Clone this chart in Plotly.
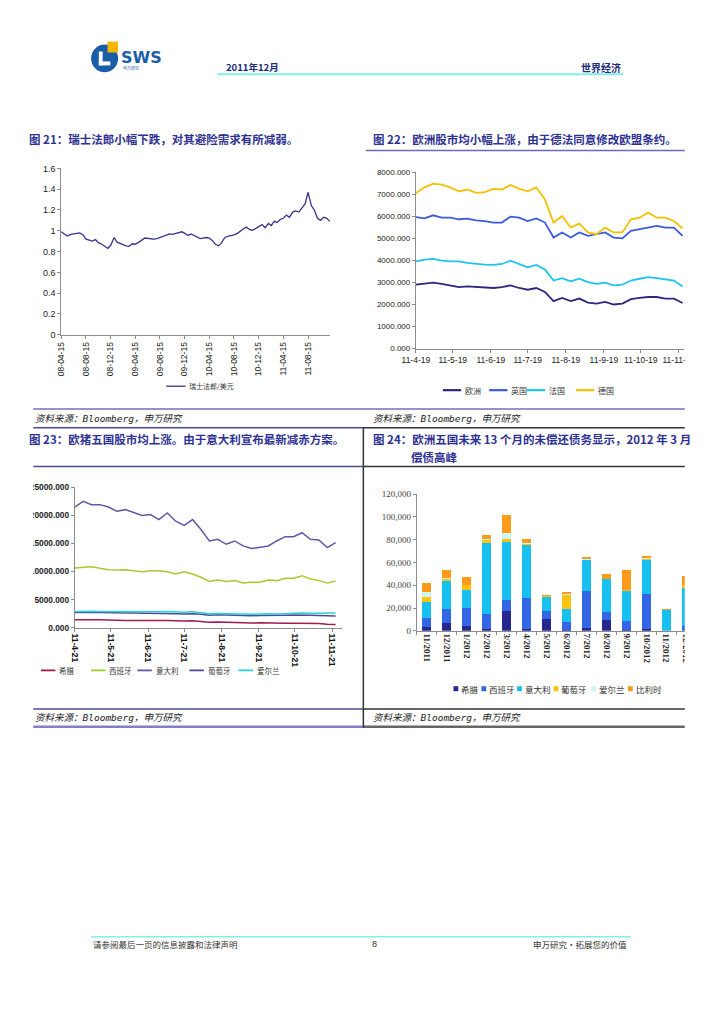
import pandas as pd
import plotly.graph_objects as go

W, H = 717, 1015


def X(px):
    return px / W


def Y(py):
    return 1 - py / H


# ---------------- data ----------------
# Chart 21: CHF / USD (semi-monthly readings)
chf_dates = pd.date_range("2008-04-15", periods=88, freq="SMS")
chf_usd = [0.99, 0.965, 0.95, 0.965, 0.97, 0.97, 0.98, 0.96, 0.92, 0.91,
           0.90, 0.915, 0.885, 0.87, 0.855, 0.83, 0.86, 0.935, 0.89, 0.875,
           0.86, 0.855, 0.85, 0.875, 0.87, 0.885, 0.905, 0.93, 0.925, 0.92,
           0.92, 0.925, 0.935, 0.945, 0.955, 0.97, 0.965, 0.975, 0.98, 0.99,
           0.975, 0.955, 0.97, 0.95, 0.935, 0.925, 0.93, 0.935, 0.93, 0.905,
           0.87, 0.855, 0.885, 0.935, 0.945, 0.95, 0.96, 0.975, 1.00, 1.02,
           1.035, 1.01, 1.005, 1.02, 1.04, 1.06, 1.03, 1.07, 1.05, 1.09,
           1.08, 1.11, 1.12, 1.15, 1.13, 1.18, 1.19, 1.18, 1.22, 1.26,
           1.37, 1.24, 1.20, 1.12, 1.10, 1.13, 1.12, 1.09]

# Chart 22: European stock indices (weekly readings)
eu_dates = pd.date_range("2011-04-19", periods=32, freq="7D")
eu_europe = [2900, 2940, 2990, 2940, 2870, 2790, 2820, 2790, 2760, 2750, 2790, 2870,
             2750, 2670, 2750, 2570, 2150, 2300, 2160, 2270, 2090, 2040, 2120, 2000,
             2040, 2240, 2300, 2340, 2340, 2270, 2270, 2070]
eu_uk = [5970, 5910, 6050, 5940, 5940, 5870, 5900, 5820, 5790, 5720, 5720, 5990,
         5940, 5790, 5910, 5720, 5040, 5270, 5040, 5270, 5120, 5190, 5270, 5040,
         5000, 5340, 5420, 5490, 5570, 5490, 5490, 5120]
eu_france = [3960, 4040, 4070, 3990, 3960, 3960, 3890, 3840, 3810, 3800, 3840, 3990,
             3840, 3690, 3800, 3590, 3090, 3200, 3050, 3170, 3020, 2940, 2990, 2870,
             2900, 3090, 3170, 3240, 3200, 3140, 3090, 2820]
eu_germany = [7050, 7320, 7490, 7440, 7320, 7140, 7220, 7070, 7100, 7250, 7220, 7430,
              7250, 7140, 7320, 6770, 5720, 6020, 5490, 5670, 5270, 5190, 5490, 5270,
              5270, 5870, 5940, 6170, 5940, 5940, 5790, 5450]

# Chart 23: PIIGS stock indices (weekly readings)
piigs_dates = pd.date_range("2011-04-21", periods=32, freq="7D")
piigs_greece = [1450, 1480, 1450, 1420, 1380, 1300, 1300, 1280, 1250, 1260, 1300, 1320,
                1250, 1200, 1250, 1150, 1000, 1050, 980, 1000, 920, 850, 880, 820,
                800, 830, 820, 850, 800, 780, 650, 600]
piigs_spain = [10620, 10740, 10860, 10570, 10330, 10270, 10330, 10160, 9980, 10160, 10160, 9980,
               9570, 9980, 9570, 8980, 8220, 8510, 8220, 8390, 7980, 8100, 8100, 8510,
               8390, 8810, 8810, 9270, 8690, 8390, 7980, 8300]
piigs_italy = [21480, 22480, 21900, 21900, 21480, 20720, 21010, 20430, 19960, 20130, 19250, 20430,
               18960, 18200, 19250, 17490, 15440, 15730, 14850, 15440, 14560, 14090, 14260, 14560,
               15440, 16200, 16200, 16910, 15730, 15610, 14260, 15140]
piigs_portugal = [2700, 2750, 2720, 2700, 2680, 2650, 2650, 2600, 2580, 2560, 2600, 2650,
                  2520, 2450, 2500, 2400, 2250, 2300, 2250, 2280, 2200, 2150, 2200, 2180,
                  2150, 2250, 2280, 2300, 2250, 2200, 2100, 2100]
piigs_ireland = [2900, 2950, 2930, 2900, 2880, 2880, 2850, 2870, 2830, 2800, 2850, 2900,
                 2820, 2780, 2850, 2700, 2500, 2550, 2480, 2500, 2450, 2420, 2500, 2480,
                 2450, 2550, 2600, 2650, 2600, 2620, 2600, 2620]

# Chart 24: debt maturing in the next 13 months
debt_months = ["11/2011", "12/2011", "1/2012", "2/2012", "3/2012", "4/2012", "5/2012",
               "6/2012", "7/2012", "8/2012", "9/2012", "10/2012", "11/2012", "12/2012"]
debt_greece = [3000, 6500, 4200, 1200, 17500, 1800, 10000, 900, 2800, 9500, 300, 1500, 0, 0]
debt_spain = [8000, 12500, 15800, 13400, 9600, 27000, 7500, 6400, 31900, 7100, 7900, 30800, 0, 4400]
debt_italy = [14500, 25000, 16000, 62400, 51300, 46600, 12200, 11900, 27300, 28800, 26800, 29500, 18100, 33500]
debt_portugal = [4500, 1500, 4000, 3000, 2000, 500, 500, 12000, 500, 0, 500, 1200, 0, 2000]
debt_ireland = [4300, 600, 0, 500, 5500, 1500, 500, 800, 500, 0, 200, 800, 0, 500]
debt_belgium = [7700, 7200, 7600, 4000, 15600, 3200, 1000, 2100, 1600, 4100, 17900, 1700, 800, 8000]

# ---------------- styles ----------------
CJK = "Noto Sans CJK SC"
SANS = "Liberation Sans, Arial, sans-serif"
SERIF = "Liberation Serif, DejaVu Serif, serif"
TITLE_C = "#2E3192"

c21 = "#34348F"
c22 = {"欧洲": "#29297F", "英国": "#3A5BE0", "法国": "#1CC4F0", "德国": "#F5C000"}
c23 = {"希腊": "#A11D4F", "西班牙": "#A4CC2C", "意大利": "#6257A6", "葡萄牙": "#4C4C9A", "爱尔兰": "#2FCFD8"}
c24 = {"希腊": "#26268F", "西班牙": "#3366E6", "意大利": "#18C0F0", "葡萄牙": "#FFC20E",
       "爱尔兰": "#CCF6F6", "比利时": "#FF9A1A"}

fig = go.Figure()

# chart 21
fig.add_trace(go.Scatter(x=chf_dates, y=chf_usd, mode="lines", name="瑞士法郎/美元",
                         line=dict(color=c21, width=1.3), xaxis="x", yaxis="y", showlegend=False))
# chart 22
for nm, vals in [("欧洲", eu_europe), ("英国", eu_uk), ("法国", eu_france), ("德国", eu_germany)]:
    fig.add_trace(go.Scatter(x=eu_dates, y=vals, mode="lines", name=nm,
                             line=dict(color=c22[nm], width=1.8), xaxis="x2", yaxis="y2", showlegend=False))
# chart 23
for nm, vals in [("希腊", piigs_greece), ("西班牙", piigs_spain), ("意大利", piigs_italy),
                 ("葡萄牙", piigs_portugal), ("爱尔兰", piigs_ireland)]:
    fig.add_trace(go.Scatter(x=piigs_dates, y=vals, mode="lines", name=nm,
                             line=dict(color=c23[nm], width=1.5), xaxis="x3", yaxis="y3", showlegend=False))
# chart 24
for nm, vals in [("希腊", debt_greece), ("西班牙", debt_spain), ("意大利", debt_italy),
                 ("葡萄牙", debt_portugal), ("爱尔兰", debt_ireland), ("比利时", debt_belgium)]:
    fig.add_trace(go.Bar(x=debt_months, y=vals, name=nm, marker=dict(color=c24[nm], line=dict(width=0)),
                         xaxis="x4", yaxis="y4", showlegend=False))

axis_common = dict(showgrid=False, zeroline=False, showline=True, linecolor="#8C8C8C", linewidth=1,
                   ticks="outside", ticklen=3, tickcolor="#8C8C8C", fixedrange=True)

fig.update_layout(
    width=W, height=H, margin=dict(l=0, r=0, t=0, b=0),
    paper_bgcolor="white", plot_bgcolor="white",
    barmode="stack", bargap=0.55, dragmode=False, hovermode=False,
    xaxis=dict(domain=[X(49), X(328)], anchor="y", type="date",
               range=["2008-04-15", "2011-12-02"], tick0="2008-04-15", dtick="M4",
               tickformat="%y-%m-%d", tickangle=-90,
               tickfont=dict(family=SANS, size=8.5, color="#222"), **axis_common),
    yaxis=dict(domain=[Y(333), Y(165)], anchor="x", range=[0, 1.6], dtick=0.2,
               tickfont=dict(family=SANS, size=9, color="#222"), **axis_common),
    xaxis2=dict(domain=[X(417), X(695)], anchor="y2", type="date",
                range=["2011-04-19", "2011-11-23"], tick0="2011-04-19", dtick="M1",
                tickformat="%y-%-m-%d", tickangle=0,
                tickfont=dict(family=SANS, size=8.5, color="#222"), **axis_common),
    yaxis2=dict(domain=[Y(347), Y(169)], anchor="x2", range=[0, 8000], dtick=1000,
                tickformat=".3f", tickfont=dict(family=SANS, size=8, color="#222"), **axis_common),
    xaxis3=dict(domain=[X(63), X(340)], anchor="y3", type="date",
                range=["2011-04-21", "2011-11-29"], tick0="2011-04-21", dtick="M1",
                tickformat="%y-%-m-%d", tickangle=90,
                tickfont=dict(family=SANS, size=8.5, color="#111", weight="bold"), **axis_common),
    yaxis3=dict(domain=[Y(629), Y(487)], anchor="x3", range=[0, 25000], dtick=5000,
                tickformat=".3f", tickfont=dict(family=SANS, size=8.3, color="#222", weight="bold"),
                **axis_common),
    xaxis4=dict(domain=[X(418), X(708)], anchor="y4", type="category", tickangle=90,
                tickson="boundaries",
                tickfont=dict(family=SERIF, size=9, color="#222", weight="bold"), **axis_common),
    yaxis4=dict(domain=[Y(632), Y(494)], anchor="x4", range=[0, 120000], dtick=20000,
                tickformat=",", tickfont=dict(family=SERIF, size=9, color="#444"), **axis_common),
)

shapes = []


def hline(x0, x1, y, color, width=1.0):
    shapes.append(dict(type="line", xref="paper", yref="paper", x0=X(x0), x1=X(x1),
                       y0=Y(y), y1=Y(y), line=dict(color=color, width=width), layer="above"))


def vline(x, y0, y1, color, width=1.0):
    shapes.append(dict(type="line", xref="paper", yref="paper", x0=X(x), x1=X(x),
                       y0=Y(y0), y1=Y(y1), line=dict(color=color, width=width), layer="above"))


def rect(x0, y0, x1, y1, color, kind="rect"):
    shapes.append(dict(type=kind, xref="paper", yref="paper", x0=X(x0), x1=X(x1),
                       y0=Y(y1), y1=Y(y0), fillcolor=color, line=dict(width=0), layer="above"))


# page clipping (left / right edge of the scanned page)
rect(0, 140, 20, 740, "white")
rect(696, 140, 717, 740, "white")

# logo
rect(80, 40, 108, 68, "#1B5EA8", kind="circle")
rect(97, 37, 108, 48, "#F7B500")
rect(88, 47, 92, 61, "white")
rect(88, 57, 100, 61, "white")

# header / footer rules
hline(211, 632, 70, "#7FF0EA", 2)
hline(80, 640, 941, "#7FF0EA", 1.5)

# chart frames
hline(365, 696, 147, "#6B6BB5", 1.5)
hline(20, 696, 408, "#7070B8", 1.5)
hline(20, 362, 427, "#4B4B8F", 1.5)
hline(362, 696, 427, "#333333", 1.5)
hline(20, 362, 466, "#4B4B8F", 1.5)
hline(362, 696, 466, "#333333", 1.5)
hline(20, 362, 711, "#4B4B8F", 1.5)
hline(362, 696, 711, "#333333", 1.5)
hline(20, 362, 729, "#8080C8", 2.5)
hline(362, 696, 729, "#666666", 2.5)
vline(362.5, 427, 730, "#333333", 1.5)

# legends (line keys / square keys)
hline(158, 178, 385, c21, 1.3)
for nm, x0 in [("欧洲", 445), ("英国", 493), ("法国", 532), ("德国", 583)]:
    hline(x0, x0 + 19, 389, c22[nm], 2.2)
for nm, x0 in [("希腊", 28), ("西班牙", 80), ("意大利", 128), ("葡萄牙", 182), ("爱尔兰", 233)]:
    hline(x0, x0 + 15, 672, c23[nm], 1.8)
for nm, x0 in [("希腊", 456), ("西班牙", 485), ("意大利", 522), ("葡萄牙", 560), ("爱尔兰", 599), ("比利时", 637)]:
    rect(x0, 688, x0 + 5, 693, c24[nm])

fig.update_layout(shapes=shapes)

ann = []


def txt(x, y, s, size, color="#222", anchor="left", family=CJK, weight="normal", style="normal"):
    ann.append(dict(x=X(x), y=Y(y), xref="paper", yref="paper", text=s, showarrow=False,
                    xanchor=anchor, yanchor="middle",
                    font=dict(family=family, size=size, color=color, weight=weight, style=style)))


# header
txt(109, 53, "SWS", 16, "#1B5EA8", family="DejaVu Sans", weight="bold")
txt(111, 64, "申万研究", 4, "#1B5EA8")
txt(218, 63, "2011年12月", 9.5, "#1D2C7A", weight="bold")
txt(632, 63, "世界经济", 10, "#1D2C7A", anchor="right", weight="bold")

# titles
txt(13, 135, "图 21：瑞士法郎小幅下跌，对其避险需求有所减弱。", 11.5, TITLE_C, weight="bold")
txt(370, 135, "图 22：欧洲股市均小幅上涨，由于德法同意修改欧盟条约。", 11.5, TITLE_C, weight="bold")
txt(13, 438, "图 23：欧猪五国股市均上涨。由于意大利宣布最新减赤方案。", 11.5, TITLE_C, weight="bold")
txt(370, 438, "图 24：欧洲五国未来 13 个月的未偿还债务显示，2012 年 3 月", 11.5, TITLE_C, weight="bold")
txt(410, 457, "偿债高峰", 11.5, TITLE_C, weight="bold")

# sources
src = "资料来源：Bloomberg，申万研究"
SRC_F = "DejaVu Sans Mono, Noto Sans CJK SC"
txt(20, 418, src, 9.5, "#222", family=SRC_F, style="italic")
txt(370, 418, src, 9.5, "#222", family=SRC_F, style="italic")
txt(20, 720, src, 9.5, "#222", family=SRC_F, style="italic")
txt(370, 720, src, 9.5, "#222", family=SRC_F, style="italic")

# legend labels
txt(180, 385, "瑞士法郎/美元", 7, "#333")
for nm, x0 in [("欧洲", 445), ("英国", 493), ("法国", 532), ("德国", 583)]:
    txt(x0 + 21, 389, nm, 8, "#333")
for nm, x0 in [("希腊", 28), ("西班牙", 80), ("意大利", 128), ("葡萄牙", 182), ("爱尔兰", 233)]:
    txt(x0 + 17, 672, nm, 7.5, "#333")
for nm, x0 in [("希腊", 456), ("西班牙", 485), ("意大利", 522), ("葡萄牙", 560), ("爱尔兰", 599), ("比利时", 637)]:
    txt(x0 + 6, 691, nm, 8.5, "#333")

# footer
txt(80, 948, "请参阅最后一页的信息披露和法律声明", 8.5, "#333")
txt(374, 948, "8", 9, "#333", anchor="center", family=SANS)
txt(638, 948, "申万研究・拓展您的价值", 8.5, "#333", anchor="right")

fig.update_layout(annotations=ann)

fig.write_html("out.html", config={"displayModeBar": False, "staticPlot": True},
               post_script="document.body.style.margin='0';document.body.style.overflow='hidden';")
